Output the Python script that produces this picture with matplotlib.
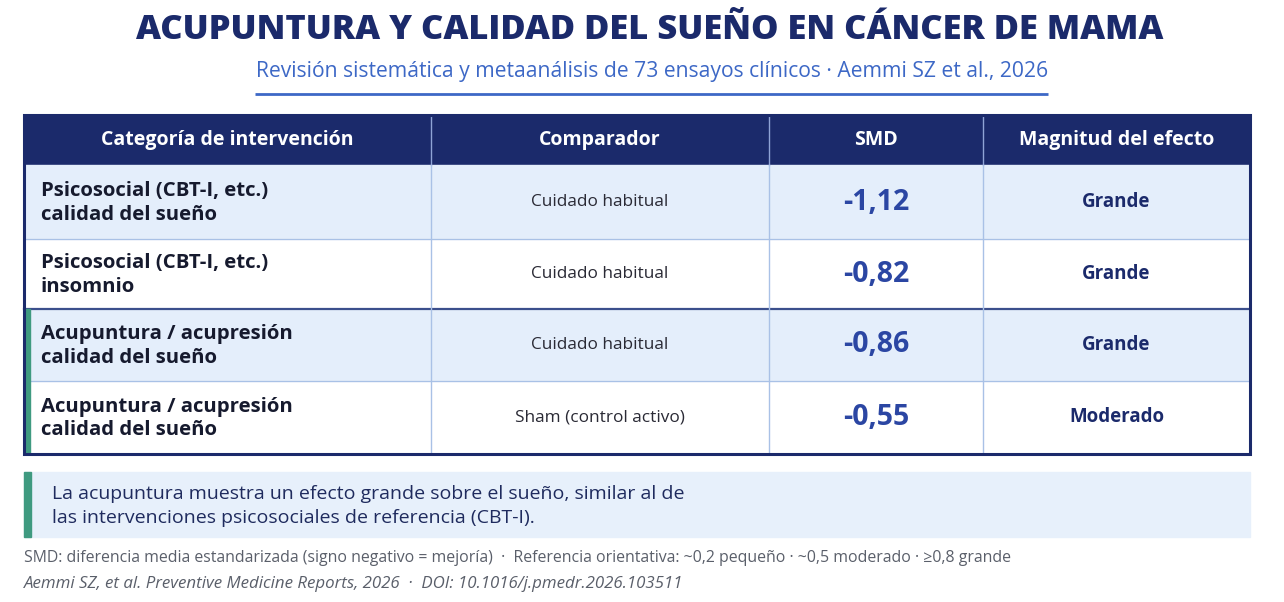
import matplotlib
matplotlib.use("Agg")
import matplotlib.pyplot as plt
from matplotlib.patches import Rectangle

plt.rcParams["font.family"] = ["Open Sans", "DejaVu Sans"]

title = "ACUPUNTURA Y CALIDAD DEL SUEÑO EN CÁNCER DE MAMA"
subtitle = "Revisión sistemática y metaanálisis de 73 ensayos clínicos · Aemmi SZ et al., 2026"
headers = ["Categoría de intervención", "Comparador", "SMD", "Magnitud del efecto"]
categories = [
    "Psicosocial (CBT-I, etc.)\ncalidad del sueño",
    "Psicosocial (CBT-I, etc.)\ninsomnio",
    "Acupuntura / acupresión\ncalidad del sueño",
    "Acupuntura / acupresión\ncalidad del sueño",
]
comparators = ["Cuidado habitual", "Cuidado habitual", "Cuidado habitual", "Sham (control activo)"]
smd = [-1.12, -0.82, -0.86, -0.55]
magnitude = ["Grande", "Grande", "Grande", "Moderado"]
highlight = [False, False, True, True]
callout = ("La acupuntura muestra un efecto grande sobre el sueño, similar al de\n"
           "las intervenciones psicosociales de referencia (CBT-I).")
foot1 = ("SMD: diferencia media estandarizada (signo negativo = mejoría)  ·  "
         "Referencia orientativa: ~0,2 pequeño · ~0,5 moderado · ≥0,8 grande")
foot2 = "Aemmi SZ, et al. Preventive Medicine Reports, 2026  ·  DOI: 10.1016/j.pmedr.2026.103511"

NAVY = "#1b2a6b"
BLUE = "#2b46a3"
LIGHT = "#e4eefb"
GRID = "#a9c1e6"
GREEN = "#3f9a80"

W, H = 1284, 602
fig = plt.figure(figsize=(W / 100, H / 100), dpi=100)
ax = fig.add_axes([0, 0, 1, 1])
ax.set_xlim(0, W)
ax.set_ylim(H, 0)
ax.axis("off")

# title block
ax.text(650, 30, title, ha="center", va="center", fontsize=24.8, fontweight=800,
        color=NAVY)
ax.text(652, 72, subtitle, ha="center", va="center", fontsize=15.2, color="#3d68c6")
ax.plot([255, 1048], [94, 94], color="#3d68c6", lw=2, solid_capstyle="butt")

# table geometry
left, right = 24, 1250
col_edges = [left, 431, 769, 983, right]
head_top, head_bot = 115, 165
row_edges = [165, 239, 309, 381, 454]

ax.add_patch(Rectangle((left, head_top), right - left, head_bot - head_top, color=NAVY, zorder=1))
for i, h in enumerate(headers):
    cx = (col_edges[i] + col_edges[i + 1]) / 2
    ax.text(cx, (head_top + head_bot) / 2, h, ha="center", va="center", fontsize=14,
            fontweight="bold", color="white", zorder=3)

for r in range(len(categories)):
    y0, y1 = row_edges[r], row_edges[r + 1]
    cy = (y0 + y1) / 2
    fill = LIGHT if r % 2 == 0 else "white"
    ax.add_patch(Rectangle((left, y0), right - left, y1 - y0, color=fill, zorder=1))
    if highlight[r]:
        ax.add_patch(Rectangle((left, y0), 6, y1 - y0, color=GREEN, zorder=4))
    ax.text(41, cy + 1, categories[r], ha="left", va="center", fontsize=14.7,
            fontweight="bold", color="#161a2e", linespacing=1.22, zorder=3)
    ax.text((col_edges[1] + col_edges[2]) / 2, cy, comparators[r], ha="center", va="center",
            fontsize=12.4, color="#2a2a35", zorder=3)
    ax.text((col_edges[2] + col_edges[3]) / 2, cy, f"{smd[r]:.2f}".replace(".", ","),
            ha="center", va="center", fontsize=20.5, fontweight="bold", color=BLUE, zorder=3)
    ax.text((col_edges[3] + col_edges[4]) / 2, cy, magnitude[r], ha="center", va="center",
            fontsize=13.5, fontweight="bold", color=NAVY, zorder=3)

# grid lines
for y in row_edges[1:-1]:
    lw, c = (1.6, "#3b4f8c") if y == row_edges[2] else (1.0, GRID)
    ax.plot([left, right], [y, y], color=c, lw=lw, zorder=2)
for x in col_edges[1:-1]:
    ax.plot([x, x], [head_top + 2, head_bot], color="#8fa3d6", lw=1, zorder=2)
    ax.plot([x, x], [head_bot, row_edges[-1]], color=GRID, lw=1, zorder=2)
ax.add_patch(Rectangle((left, head_top), right - left, row_edges[-1] - head_top,
                       fill=False, ec=NAVY, lw=2.2, zorder=5))

# callout
ax.add_patch(Rectangle((left, 472), right - left, 65, color="#e7f0fb", zorder=1))
ax.add_patch(Rectangle((left, 472), 7, 65, color=GREEN, zorder=2))
ax.text(52, 506, callout, ha="left", va="center", fontsize=14, color="#1f2b5e",
        linespacing=1.4)

# footer
ax.text(24, 558, foot1, ha="left", va="center", fontsize=11.4, color="#5a5f6a")
ax.text(24, 584, foot2, ha="left", va="center", fontsize=12.2, color="#5a5f6a", style="italic")

fig.savefig("out.png", dpi=100)
